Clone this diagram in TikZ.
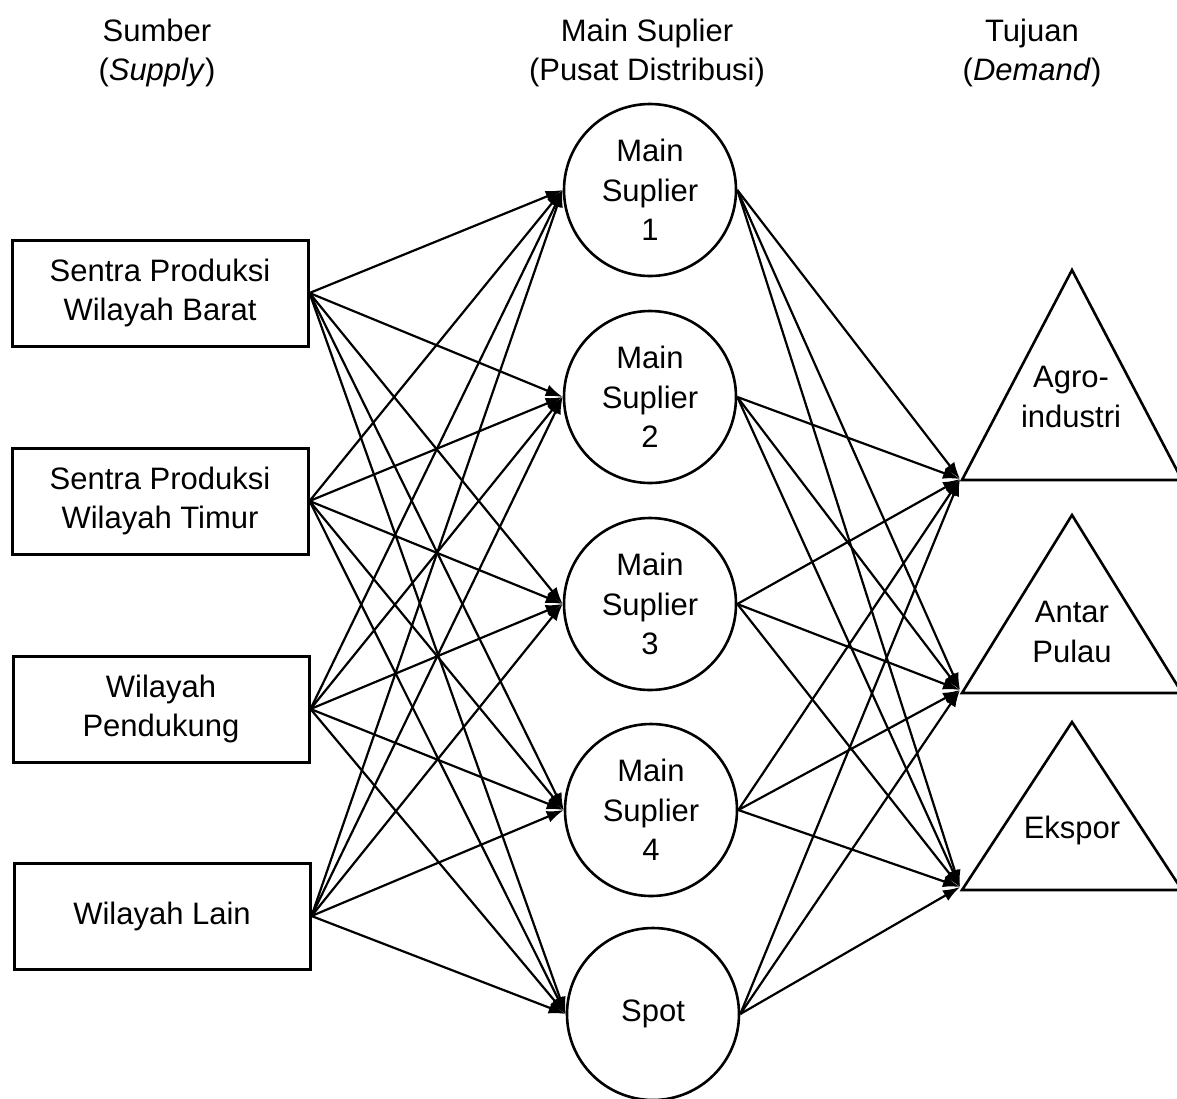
\documentclass[tikz,border=0pt]{standalone}
\usepackage{fontspec}
\setmainfont{Liberation Sans}
\usetikzlibrary{arrows.meta}
\begin{document}
\begin{tikzpicture}[x=1pt,y=-1pt,
  every node/.style={font=\fontsize{31}{39.5}\selectfont, align=center, inner sep=0pt},
  srcbox/.style={draw, line width=3pt, minimum width=296pt, minimum height=106pt},
  hub/.style={draw, circle, line width=2.6pt, minimum size=172pt},
  tri/.style={draw, line width=2.6pt, line join=miter},
  link/.style={line width=2.2pt, -{Latex[length=17pt,width=12pt]}},
]
\useasboundingbox (0,0) rectangle (1177,1098);
% headers
\node (h1) at (157,53) {Sumber\\(\textit{Supply})};
\node (h2) at (647,53) {Main Suplier\\(Pusat Distribusi)};
\node (h3) at (1032,53) {Tujuan\\(\textit{Demand})};
% sources
\node[srcbox] (b1) at (160,293) {Sentra Produksi\\Wilayah Barat};
\node[srcbox] (b2) at (160,501) {Sentra Produksi\\Wilayah Timur};
\node[srcbox] (b3) at (161,709) {Wilayah\\Pendukung};
\node[srcbox] (b4) at (162,916) {Wilayah Lain};
% hubs
\node[hub] (m1) at (650,190) {Main\\Suplier\\1};
\node[hub] (m2) at (650,397) {Main\\Suplier\\2};
\node[hub] (m3) at (650,604) {Main\\Suplier\\3};
\node[hub] (m4) at (651,810) {Main\\Suplier\\4};
\node[hub] (m5) at (653,1014) {Spot};
% destinations
\draw[tri] (962,480) -- (1072,270) -- (1182,480) -- cycle;
\draw[tri] (962,693) -- (1072,515) -- (1182,693) -- cycle;
\draw[tri] (962,890) -- (1072,722) -- (1182,890) -- cycle;
\node (t1) at (1071,397) {Agro-\\industri};
\node (t2) at (1072,632) {Antar\\Pulau};
\node (t3) at (1072,830) {Ekspor};
\coordinate (d1) at (960,479);
\coordinate (d2) at (960,690);
\coordinate (d3) at (960,887);
% connectors
\foreach \s in {b1,b2,b3,b4}
  \foreach \m in {m1,m2,m3,m4,m5}
    \draw[link] (\s.east) -- (\m.west);
\foreach \m in {m1,m2,m3,m4,m5}
  \foreach \d in {d1,d2,d3}
    \draw[link] (\m.east) -- (\d);
\end{tikzpicture}
\end{document}
